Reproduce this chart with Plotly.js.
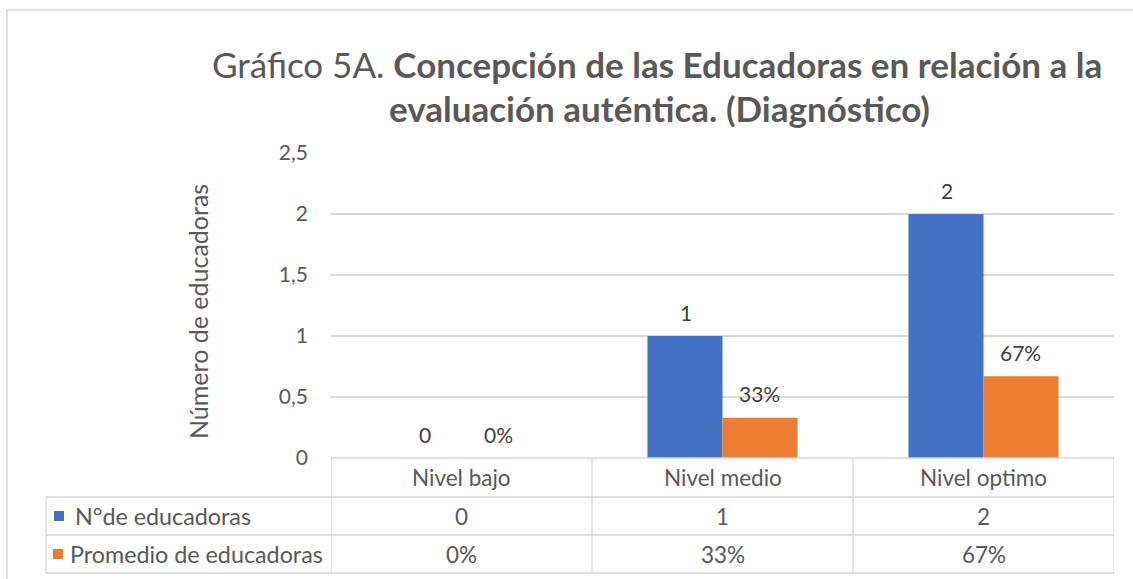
<!DOCTYPE html>
<html>
<head>
<meta charset="utf-8">
<script src="https://cdn.plot.ly/plotly-3.0.1.min.js"></script>
<style>html,body{margin:0;padding:0;background:#fff;}#chart{width:1133px;height:579px;}</style>
</head>
<body>
<div id="chart"></div>
<script>
const categories = ['Nivel bajo', 'Nivel medio', 'Nivel optimo'];
const seriesNames = ['N°de educadoras', 'Promedio de educadoras'];
const numEducadoras = [0, 1, 2];
const promEducadoras = [0, 0.33, 0.67];
const yTicks = [0, 0.5, 1, 1.5, 2, 2.5];
const yTickLabels = ['0', '0,5', '1', '1,5', '2', '2,5'];
const titleLight = 'Gráfico 5A. ';
const titleBold1 = 'Concepción de las Educadoras en relación a la';
const titleBold2 = 'evaluación auténtica. (Diagnóstico)';
const yTitle = 'Número de educadoras';

const BLUE = '#4472C4', ORANGE = '#ED7D31', GRID = '#D9D9D9', TXT = '#595959', LBL = '#404040';
const FONT = 'Lato, "Open Sans", sans-serif';

// pixel helpers (plot area: x 331..1114, y 153..458)
const L = 331, R = 1114, T = 153, B = 458;
const px = x => (x - L) / (R - L);
const py = y => (B - y) / (B - T);

const traces = [
  {type: 'bar', name: seriesNames[0], x: categories, y: numEducadoras,
   marker: {color: BLUE}, hoverinfo: 'none'},
  {type: 'bar', name: seriesNames[1], x: categories, y: promEducadoras,
   marker: {color: ORANGE}, hoverinfo: 'none'}
];

const shapes = [];
const annotations = [];
// outer frame
shapes.push({type: 'rect', xref: 'paper', yref: 'paper', x0: px(7), x1: px(1160), y0: py(620), y1: py(10),
  line: {color: GRID, width: 1.5}, fillcolor: 'rgba(0,0,0,0)', layer: 'below'});

// data labels above bars
const labelFont = {family: FONT, size: 21, color: LBL};
categories.forEach((c, i) => {
  annotations.push({xref: 'x', yref: 'y', x: i, y: numEducadoras[i], xshift: -37, yshift: 24, text: String(numEducadoras[i]),
    showarrow: false, font: labelFont, xanchor: 'center', yanchor: 'middle'});
  annotations.push({xref: 'x', yref: 'y', x: i, y: promEducadoras[i], xshift: 37, yshift: 24, text: Math.round(promEducadoras[i] * 100) + '%',
    showarrow: false, font: labelFont, xanchor: 'center', yanchor: 'middle'});
});

// table
const rowY = [458, 497, 535, 573];
const tLeft = 46;
shapes.push({type: 'line', xref: 'paper', yref: 'paper', x0: 0, x1: 1, y0: py(rowY[0]), y1: py(rowY[0]), line: {color: GRID, width: 1.3}});
for (let i = 1; i < rowY.length; i++) {
  shapes.push({type: 'line', xref: 'paper', yref: 'paper', x0: px(tLeft), x1: 1, y0: py(rowY[i]), y1: py(rowY[i]), line: {color: GRID, width: 1.3}});
}
for (let i = 0; i <= categories.length; i++) {
  shapes.push({type: 'line', xref: 'x', yref: 'paper', x0: i - 0.5, x1: i - 0.5, y0: py(rowY[3]), y1: py(rowY[0]), line: {color: GRID, width: 1.3}});
}
shapes.push({type: 'line', xref: 'paper', yref: 'paper', x0: px(tLeft), x1: px(tLeft), y0: py(rowY[3]), y1: py(rowY[1]), line: {color: GRID, width: 1.3}});

const cellFont = {family: FONT, size: 22.5, color: TXT};
const rowFont = {family: FONT, size: 23.3, color: TXT};
const mid = (a, b) => py((rowY[a] + rowY[b]) / 2);
categories.forEach((c, i) => {
  annotations.push({xref: 'x', yref: 'paper', x: i, y: mid(0, 1), text: c, showarrow: false, font: cellFont, xanchor: 'center', yanchor: 'middle'});
  annotations.push({xref: 'x', yref: 'paper', x: i, y: mid(1, 2), text: String(numEducadoras[i]), showarrow: false, font: cellFont, xanchor: 'center', yanchor: 'middle'});
  annotations.push({xref: 'x', yref: 'paper', x: i, y: mid(2, 3), text: Math.round(promEducadoras[i] * 100) + '%', showarrow: false, font: cellFont, xanchor: 'center', yanchor: 'middle'});
});
// legend keys
shapes.push({type: 'rect', xref: 'paper', yref: 'paper', x0: px(54), x1: px(64), y0: py(521), y1: py(511), fillcolor: BLUE, line: {width: 0}});
shapes.push({type: 'rect', xref: 'paper', yref: 'paper', x0: px(53), x1: px(63), y0: py(559), y1: py(549), fillcolor: ORANGE, line: {width: 0}});
annotations.push({xref: 'paper', yref: 'paper', x: px(73), y: mid(1, 2), text: seriesNames[0], showarrow: false, font: rowFont, xanchor: 'left', yanchor: 'middle'});
annotations.push({xref: 'paper', yref: 'paper', x: px(68), y: mid(2, 3), text: seriesNames[1], showarrow: false, font: rowFont, xanchor: 'left', yanchor: 'middle'});

// y axis title
annotations.push({xref: 'paper', yref: 'paper', x: px(198), y: py(312), text: yTitle, textangle: -90, showarrow: false,
  font: {family: FONT, size: 25, color: TXT}, xanchor: 'center', yanchor: 'middle'});

// chart title
annotations.push({xref: 'paper', yref: 'paper', x: px(657), y: py(64), text: titleLight + '<b>' + titleBold1 + '</b>', showarrow: false,
  font: {family: FONT, size: 35, color: TXT}, xanchor: 'center', yanchor: 'middle'});
annotations.push({xref: 'paper', yref: 'paper', x: px(659), y: py(108), text: '<b>' + titleBold2 + '</b>', showarrow: false,
  font: {family: FONT, size: 35, color: TXT}, xanchor: 'center', yanchor: 'middle'});

const layout = {
  width: 1133, height: 579,
  margin: {l: L, r: 1133 - R, t: T, b: 579 - B, pad: 0},
  paper_bgcolor: '#fff', plot_bgcolor: '#fff',
  separators: ',.',
  showlegend: false,
  barmode: 'group', bargap: 0.425, bargroupgap: 0,
  xaxis: {type: 'category', range: [-0.5, 2.5], showticklabels: false, showgrid: false, zeroline: false, showline: false, ticks: '', fixedrange: true},
  yaxis: {range: [0, 2.5], tickvals: yTicks, ticktext: yTickLabels, showgrid: true, gridcolor: GRID, gridwidth: 1.3,
    zeroline: false, showline: false, ticks: '', ticklabelstandoff: 22,
    tickfont: {family: FONT, size: 21, color: TXT}, fixedrange: true},
  shapes: shapes,
  annotations: annotations,
  font: {family: FONT, color: TXT}
};

Plotly.newPlot('chart', traces, layout, {displayModeBar: false, staticPlot: true});
</script>
</body>
</html>
